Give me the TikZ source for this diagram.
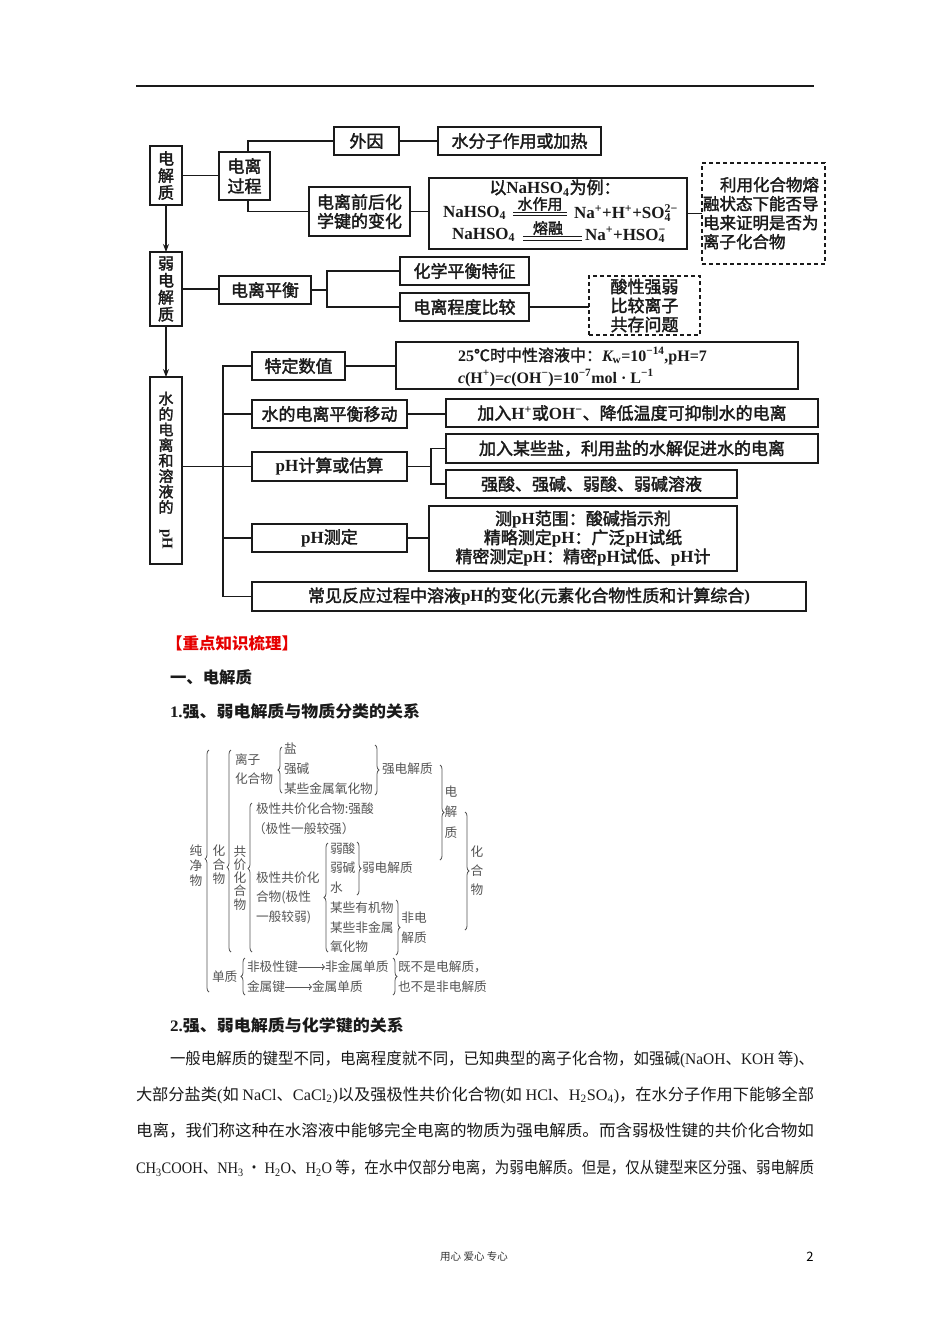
\documentclass[tikz,border=0pt]{standalone}
\usepackage{fontspec}
\usepackage{graphicx}
\setmainfont{Noto Sans CJK SC}
\newfontfamily\mfont{Noto Sans CJK SC}[FakeBold=2]
\newfontfamily\tnr{Liberation Serif}
\usetikzlibrary{arrows.meta,decorations.pathreplacing}
\definecolor{ink}{HTML}{1A1A1A}
\definecolor{treeink}{HTML}{555555}
\definecolor{headred}{HTML}{E60000}
\newcommand\fs[1]{\fontsize{#1}{#1}\selectfont}
\newcommand\tb[1]{{\tnr\bfseries #1}}
\newcommand\tr[1]{{\tnr #1}}
\newcommand\upx[1]{\textsuperscript{\tnr\bfseries #1}}
\newcommand\dnx[1]{\textsubscript{\tnr\bfseries #1}}
\newcommand\updn[2]{\ooalign{\upx{#1}\cr\dnx{#2}}}
\newcommand\fitw[2]{\resizebox{#1}{\height}{#2}}
\begin{document}
\begin{tikzpicture}[x=1pt,y=-1pt,
  every node/.style={inner sep=0pt, outer sep=0pt, text=ink},
  box/.style={draw=ink, line width=1.3pt, minimum height=28pt, font=\mfont\fs{17}},
  vbox/.style={draw=ink, line width=1.3pt, minimum width=32pt, align=center},
  dbox/.style={draw=ink, line width=1.3pt, dash pattern=on 4pt off 3pt},
  conn/.style={draw=ink, line width=1.2pt},
  arr/.style={conn, -{Stealth[length=8pt,width=6pt]}},
  tree/.style={font=\fs{12.7}, text=treeink, anchor=west},
  treev/.style={font=\fontsize{12.7}{14}\selectfont, text=treeink, align=center},
  br/.style={draw=treeink, line width=0.8pt, decorate, decoration={brace, amplitude=4pt, aspect=#1}},
  br/.default=0.5,
  tarr/.style={draw=treeink, line width=0.7pt, -{To[length=3pt]}},
  para/.style={font=\fs{16}, anchor=west},
]
\useasboundingbox (0,0) rectangle (950,1344);
\fill[white] (0,0) rectangle (950,1344);
\draw[ink, line width=1.2pt] (136,86) -- (814,86);

% ---------- diagram 1 ----------
\node[vbox, minimum height=59pt, font=\mfont\fontsize{16}{17}\selectfont] (d1) at (166,175.5) {电\\解\\质};
\node[vbox, minimum height=74pt, font=\mfont\fontsize{16}{17}\selectfont] (d2) at (166,289) {弱\\电\\解\\质};
\node[vbox, minimum height=187pt, font=\mfont\fontsize{15}{15.5}\selectfont] (d3) at (166,470.5) {水\\的\\电\\离\\和\\溶\\液\\的\\[1pt]\rotatebox{-90}{\tb{pH}}};

\node[box, minimum width=51pt, minimum height=48pt, align=center, font=\mfont\fontsize{17}{20}\selectfont] (b) at (244.5,176) {电离\\过程};
\node[box, minimum width=65pt] (wy) at (366.5,141) {外因};
\node[box, minimum width=163pt] (sf) at (519.5,141) {水分子作用或加热};
\node[box, minimum width=101pt, minimum height=49pt, align=center, font=\mfont\fontsize{17}{19}\selectfont] (jb) at (359.5,211.5) {电离前后化\\学键的变化};
\node[box, minimum width=258pt, minimum height=71pt] (na) at (558,213.5) {};
\node[font=\mfont\fs{17}] (na1) at (555,188) {以\tb{NaHSO\dnx{4}}为例：};
\node[font=\mfont\fs{17}, anchor=west] (na2a) at (443,213) {\tb{NaHSO\dnx{4}}};
\node[font=\mfont\fs{15}] (na2c) at (540,204) {水作用};
\draw[ink, line width=0.9pt] (513,212) -- (567,212) (513,215.5) -- (567,215.5);
\node[font=\mfont\fs{17}, anchor=west] (na2b) at (574,213) {\tb{Na\upx{+}+H\upx{+}+SO}\updn{2−}{4}};
\node[font=\mfont\fs{17}, anchor=west] (na3a) at (452,235) {\tb{NaHSO\dnx{4}}};
\node[font=\mfont\fs{15}] (na3c) at (548,228) {熔融};
\draw[ink, line width=0.9pt] (523,236.5) -- (582,236.5) (523,240) -- (582,240);
\node[font=\mfont\fs{17}, anchor=west] (na3b) at (585,235) {\tb{Na\upx{+}+HSO}\updn{−}{4}};
\node[dbox, minimum width=123pt, minimum height=101pt] (dx) at (763.5,213.5) {};
\node[font=\mfont\fontsize{16.5}{19}\selectfont, align=left, anchor=north west] (dxt) at (703,177) {\hspace*{17pt}利用化合物熔\\融状态下能否导\\电来证明是否为\\离子化合物};

\node[box, minimum width=92pt] (ph) at (265,290) {电离平衡};
\node[box, minimum width=129pt] (hx) at (464.5,271) {化学平衡特征};
\node[box, minimum width=129pt] (cd) at (464.5,307) {电离程度比较};
\node[dbox, minimum width=111pt, minimum height=59pt, align=center, font=\mfont\fontsize{17}{19}\selectfont] (dy) at (644.5,305.5) {酸性强弱\\比较离子\\共存问题};

\node[box, minimum width=93pt] (td) at (298.5,366) {特定数值};
\node[box, minimum width=402pt, minimum height=47pt] (kw) at (597,365.5) {};
\node[font=\mfont\fs{16}, anchor=west] (kw1) at (458,356) {\tb{25}℃时中性溶液中：\tb{\itshape K}\dnx{w}\tb{=10}\upx{−14}\tb{,pH=7}};
\node[font=\mfont\fs{16}, anchor=west] (kw2) at (458,378) {\tb{\itshape c}\tb{(H}\upx{+}\tb{)=}\tb{\itshape c}\tb{(OH}\upx{−}\tb{)=10}\upx{−7}\tb{mol · L}\upx{−1}};
\node[box, minimum width=155pt] (yd) at (329.5,414) {水的电离平衡移动};
\node[box, minimum width=372pt] (jr) at (632,413) {加入\tb{H}\upx{+}或\tb{OH}\upx{−}、降低温度可抑制水的电离};
\node[box, minimum width=155pt, minimum height=29pt] (js) at (329.5,466.5) {\tb{pH}计算或估算};
\node[box, minimum width=372pt, minimum height=29pt] (yan) at (632,448.5) {加入某些盐，利用盐的水解促进水的电离};
\node[box, minimum width=291pt] (qs) at (591.5,484) {强酸、强碱、弱酸、弱碱溶液};
\node[box, minimum width=155pt] (cdg) at (329.5,538) {\tb{pH}测定};
\node[box, minimum width=308pt, minimum height=65pt, align=center, font=\mfont\fontsize{17}{19}\selectfont] (cp) at (583,538.5) {测\tb{pH}范围：酸碱指示剂\\精略测定\tb{pH}：广泛\tb{pH}试纸\\精密测定\tb{pH}：精密\tb{pH}试低、\tb{pH}计};
\node[box, minimum width=554pt, minimum height=29pt] (cj) at (529,596.5) {常见反应过程中溶液\tb{pH}的变化\tb{(}元素化合物性质和计算综合\tb{)}};

% connectors
\draw[arr] (d1.south) -- (d2.north);
\draw[arr] (d2.south) -- (d3.north);
\draw[conn] (d1.east) -- (d1.east -| b.west);
\draw[conn] ([xshift=3.5pt]b.north) |- (wy.west);
\draw[conn] ([xshift=3.5pt]b.south) |- (jb.west);
\draw[conn] (wy.east) -- (sf.west);
\draw[conn] (jb.east) -- (jb.east -| na.west);
\draw[conn] (na.east) -- (dx.west);
\draw[conn] (d2.east) -- (d2.east -| ph.west);
\coordinate (f1) at (327,290);
\draw[conn] (ph.east) -- (f1);
\draw[conn] (hx.west) -| (f1) |- (cd.west);
\draw[conn] (cd.east) -- (cd.east -| dy.west);
\coordinate (bus) at (223,366);
\draw[conn] (td.west) -- (bus) |- (cj.west);
\draw[conn] (bus |- yd.west) -- (yd.west);
\draw[conn] (d3.east |- js.west) -- (js.west);
\draw[conn] (bus |- cdg.west) -- (cdg.west);
\draw[conn] (td.east) -- (td.east -| kw.west);
\draw[conn] (yd.east) -- (yd.east -| jr.west);
\coordinate (f2) at (431,466.5);
\draw[conn] (js.east) -- (f2);
\draw[conn] (yan.west) -| (f2) |- (qs.west);
\draw[conn] (cdg.east) -- (cdg.east -| cp.west);

% ---------- headings ----------
\node[font=\bfseries\fs{16}, text=headred, anchor=west] (h0) at (166,643) {\fitw{132pt}{【重点知识梳理】}};
\node[font=\bfseries\fs{16}, anchor=west] (h1) at (170,677) {\fitw{82pt}{一、电解质}};
\node[font=\bfseries\fs{16}, anchor=west] (h2) at (170,711) {\fitw{250pt}{\tb{1.}强、弱电解质与物质分类的关系}};

% ---------- classification tree ----------
\node[treev, font=\fontsize{12.7}{15}\selectfont] (tc) at (196,866) {纯\\净\\物};
\draw[br=0.55] (209,992) -- (209,750);
\node[treev] (thh) at (219,865) {化\\合\\物};
\draw[br=0.42] (231,952) -- (231,750);
\node[tree] (tlz1) at (235,760) {离子};
\node[tree] (tlz2) at (235,779) {化合物};
\draw[br] (282,793) -- (282,747);
\node[tree] (tyan) at (284,748) {盐};
\node[tree] (tqj) at (284,769) {强碱};
\node[tree] (tjs) at (284,789) {某些金属氧化物};
\draw[br] (375,745) -- (375,795);
\node[tree] (tqd) at (382,769) {强电解质};
\node[treev, font=\fontsize{12.7}{13.2}\selectfont] (tgj) at (240,878) {共\\价\\化\\合\\物};
\draw[br=0.56] (252,952) -- (252,803);
\node[tree] (tjx1) at (256,809) {极性共价化合物:强酸};
\node[tree] (tjx2) at (253,829) {（极性一般较强）};
\node[tree] (tjr1) at (256,878) {极性共价化};
\node[tree] (tjr2) at (256,897) {合物(极性};
\node[tree] (tjr3) at (256,917) {一般较弱)};
\draw[br] (328,952) -- (328,843);
\node[tree] (tr1) at (330,849) {弱酸};
\node[tree] (tr2) at (330,868) {弱碱};
\node[tree] (tr3) at (330,888) {水};
\node[tree] (tr4) at (330,908) {某些有机物};
\node[tree] (tr5) at (330,928) {某些非金属};
\node[tree] (tr6) at (330,947) {氧化物};
\draw[br] (357,842) -- (357,895);
\node[tree] (trd) at (362,868) {弱电解质};
\draw[br] (396,900) -- (396,955);
\node[treev, font=\fontsize{12.7}{20}\selectfont] (tfd) at (414,928) {非电\\解质};
\draw[br] (440,765) -- (440,860);
\node[treev, font=\fontsize{12.7}{20.5}\selectfont] (tdj) at (451,812) {电\\解\\质};
\draw[br] (465,812) -- (465,930);
\node[treev, font=\fontsize{12.7}{19}\selectfont] (thr) at (477,871) {化\\合\\物};
\node[tree] (tdz) at (212,977) {单质};
\draw[br] (245,995) -- (245,958);
\node[tree] (tf1) at (247,967) {非极性键};
\node[tree] (tf2) at (325,967) {非金属单质};
\draw[tarr] (tf1.east) -- (tf2.west);
\node[tree] (tg1) at (247,987) {金属键};
\node[tree] (tg2) at (312,987) {金属单质};
\draw[tarr] (tg1.east) -- (tg2.west);
\draw[br] (393,958) -- (393,995);
\node[tree] (tn1) at (398,967) {既不是电解质，};
\node[tree] (tn2) at (398,987) {也不是非电解质};

% ---------- paragraph ----------
\node[para, font=\bfseries\fs{16}] (p0) at (170,1025) {\fitw{234pt}{\tb{2.}强、弱电解质与化学键的关系}};
\node[para] (p1) at (170,1059) {\fitw{644pt}{一般电解质的键型不同，电离程度就不同，已知典型的离子化合物，如强碱\tr{(NaOH}、\tr{KOH} 等\tr{)}、}};
\node[para] (p2) at (136,1095) {\fitw{678pt}{大部分盐类\tr{(}如 \tr{NaCl}、\tr{CaCl\textsubscript{2})}以及强极性共价化合物\tr{(}如 \tr{HCl}、\tr{H\textsubscript{2}SO\textsubscript{4})}，在水分子作用下能够全部}};
\node[para] (p3) at (136,1131) {\fitw{678pt}{电离，我们称这种在水溶液中能够完全电离的物质为强电解质。而含弱极性键的共价化合物如}};
\node[para] (p4) at (136,1168) {\fitw{678pt}{\tr{CH\textsubscript{3}COOH}、\tr{NH\textsubscript{3}} · \tr{H\textsubscript{2}O}、\tr{H\textsubscript{2}O} 等，在水中仅部分电离，为弱电解质。但是，仅从键型来区分强、弱电解质}};

% ---------- footer ----------
\node[font=\fs{10.5}, text=black!80] (ft) at (474,1257) {用心 爱心 专心};
\node[font=\fs{13}, text=black] (pg) at (810,1257) {2};
\end{tikzpicture}
\end{document}
